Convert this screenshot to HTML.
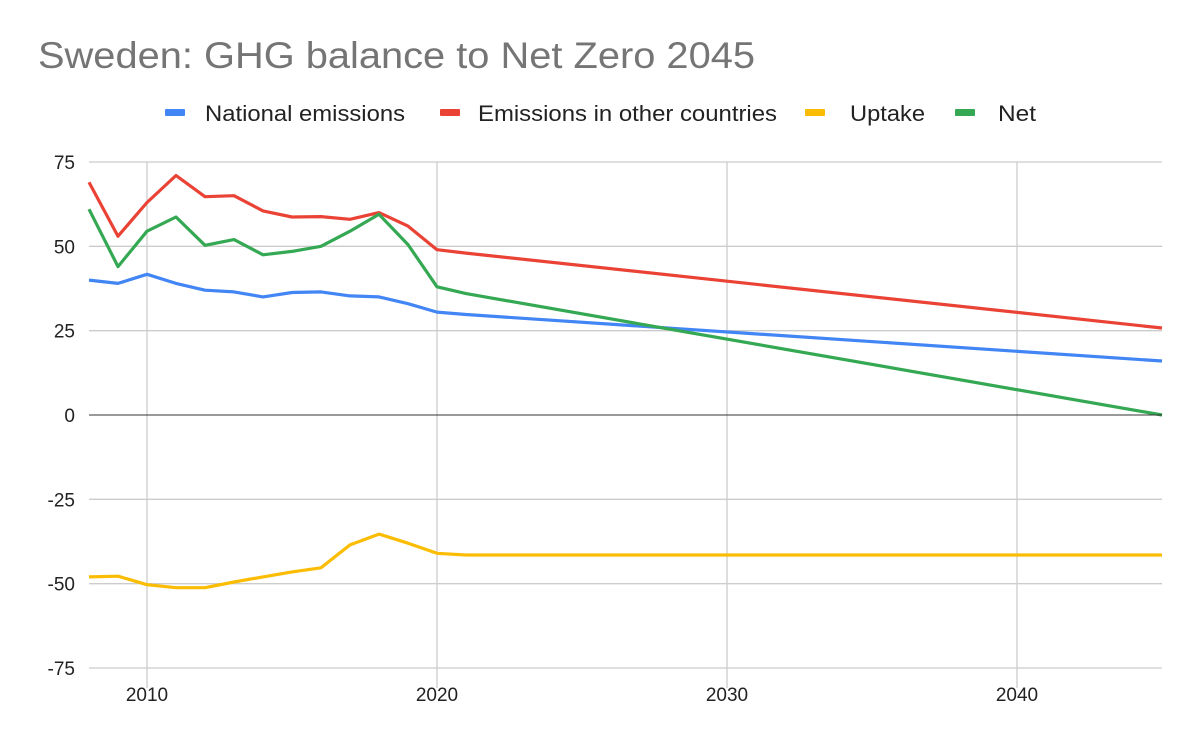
<!DOCTYPE html>
<html><head><meta charset="utf-8"><style>
body{margin:0;background:#fff;}
svg{display:block;font-family:"Liberation Sans",Arial,sans-serif;}
</style></head><body>
<svg id="chart" width="1200" height="742" viewBox="0 0 1200 742">
<text x="38" y="68" font-size="37" fill="#757575" textLength="717" lengthAdjust="spacingAndGlyphs">Sweden: GHG balance to Net Zero 2045</text>
<g id="legend"></g>
<g id="grid"></g>
<g id="series"></g>
<g id="axes"></g>
</svg>
<script>
const seriesNames = ["National emissions","Emissions in other countries","Uptake","Net"];
const seriesColors = ["#4285f4","#ea4335","#fbbc04","#34a853"];
const years = [2008,2009,2010,2011,2012,2013,2014,2015,2016,2017,2018,2019,2020,2021,2045];
const national = [40,39,41.7,39,37,36.5,35,36.3,36.5,35.3,35,33,30.5,29.8,16];
const otherCountries = [69,53,63,71,64.7,65,60.5,58.7,58.8,58,60,56,49,48,25.8];
const uptake = [-48,-47.8,-50.3,-51.2,-51.2,-49.5,-48,-46.5,-45.3,-38.5,-35.3,-38,-41,-41.5,-41.5];
const net = [61,44,54.5,58.7,50.3,52,47.5,48.5,50,54.5,59.5,50.5,38,36,0];
const yTicks = [75,50,25,0,-25,-50,-75];
const xTicks = [2010,2020,2030,2040];

const NS="http://www.w3.org/2000/svg";
const X0=89,X1=1162,Y0=162,Y1=668,xMin=2008,xMax=2045,yMin=-75,yMax=75;
const xs=v=>X0+(v-xMin)/(xMax-xMin)*(X1-X0);
const ys=v=>Y1-(v-yMin)/(yMax-yMin)*(Y1-Y0);
function mk(tag,attrs,parent){const e=document.createElementNS(NS,tag);for(const k in attrs)e.setAttribute(k,attrs[k]);parent.appendChild(e);return e;}
const grid=document.getElementById('grid'),axes=document.getElementById('axes'),ser=document.getElementById('series'),leg=document.getElementById('legend');
yTicks.forEach(t=>{
  const l=mk('line',{x1:X0,x2:X1,y1:ys(t),y2:ys(t),stroke:t===0?'#333':'#ccc','stroke-width':t===0?1:1.3},t===0?axes:grid);
  
  
  const tx=mk('text',{x:75,y:ys(t)+7,'text-anchor':'end','font-size':19,fill:'#222'},axes);
  
  
  tx.textContent=t;
});
xTicks.forEach(t=>{
  const l=mk('line',{x1:xs(t),x2:xs(t),y1:Y0,y2:Y1+20,stroke:'#ccc','stroke-width':1.3},grid);
  
  
  const tx=mk('text',{x:xs(t),y:701,'text-anchor':'middle','font-size':19,fill:'#222'},axes);
  
  
  tx.textContent=t;
});
const data=[national,otherCountries,uptake,net];
const keys=['national-emissions','other-countries-emissions','uptake','net'];
[2,0,1,3].forEach(i=>{
  const d=years.map((y,j)=>(j?'L':'M')+xs(y).toFixed(1)+','+ys(data[i][j]).toFixed(1)).join('');
  const p=mk('path',{d:d,fill:'none',stroke:seriesColors[i],'stroke-width':3.2,'stroke-linejoin':'round'},ser);
  
  
});
const legX=[165,440,805,955],legTextX=[205,478,850,998],legW=[200,299,75,38];
seriesNames.forEach((n,i)=>{
  const r=mk('rect',{x:legX[i],y:109,width:20,height:7,rx:1,fill:seriesColors[i]},leg);
  
  
  const tx=mk('text',{x:legTextX[i],y:121,'font-size':22,fill:'#222',textLength:legW[i],lengthAdjust:'spacingAndGlyphs'},leg);
  
  
  tx.textContent=n;
});
</script>
</body></html>
